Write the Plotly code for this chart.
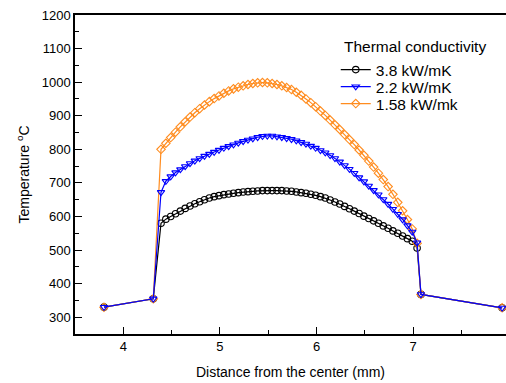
import plotly.graph_objects as go

# Distance from the center (mm)
x_left = [3.8, 4.31]
x_arc = [4.39, 4.44, 4.49, 4.54, 4.59, 4.64, 4.69, 4.74, 4.79, 4.84,
         4.89, 4.94, 4.99, 5.04, 5.09, 5.14, 5.19, 5.24, 5.29, 5.34,
         5.39, 5.44, 5.49, 5.54, 5.59, 5.64, 5.69, 5.74, 5.79, 5.84,
         5.89, 5.94, 5.99, 6.04, 6.09, 6.14, 6.19, 6.24, 6.29, 6.34,
         6.39, 6.44, 6.49, 6.54, 6.59, 6.64, 6.69, 6.74, 6.79, 6.84,
         6.89, 6.94, 6.99, 7.04]
x_right = [7.08, 7.92]

# Temperature (°C)
t_left = [330, 355]
t_right = [368, 328]

t38_arc = [580, 592, 600, 608, 616, 624, 631, 638, 644, 650,
           655, 659, 662, 665, 667, 669, 671, 673, 674, 675,
           676, 677, 677, 677, 677, 677, 676, 675, 673, 671,
           669, 666, 663, 659, 655, 649, 643, 637, 630, 623,
           616, 609, 601, 594, 587, 580, 572, 565, 557, 550,
           542, 534, 526, 506]

t22_arc = [672, 705, 719, 731, 740, 749, 758, 766, 773, 780,
           786, 792, 798, 804, 809, 814, 819, 824, 828, 832,
           836, 839, 840, 840, 838, 836, 833, 830, 826, 821,
           816, 810, 804, 797, 790, 782, 773, 763, 752, 741,
           729, 716, 704, 691, 678, 665, 651, 637, 622, 607,
           591, 573, 554, 522]

t158_arc = [800, 818, 835, 851, 867, 882, 896, 909, 921, 932,
            942, 951, 959, 967, 974, 980, 985, 989, 993, 996,
            998, 999, 998, 996, 993, 989, 984, 978, 970, 961,
            950, 939, 927, 914, 901, 887, 873, 859, 844, 829,
            814, 798, 782, 765, 747, 729, 710, 689, 666, 642,
            617, 591, 563, 520]

series_names = ["3.8 kW/mK", "2.2 kW/mK", "1.58 kW/mk"]
legend_title = "Thermal conductivity"
x_all = x_left + x_arc + x_right

fig = go.Figure()

styles = {
    "3.8 kW/mK": dict(color="#000000", symbol="circle-open", legend="legend", data=t38_arc),
    "1.58 kW/mk": dict(color="#FF8C1F", symbol="diamond-open", legend="legend3", data=t158_arc),
    "2.2 kW/mK": dict(color="#0000FF", symbol="triangle-down-open", legend="legend2", data=t22_arc),
}

for name in ["3.8 kW/mK", "1.58 kW/mk", "2.2 kW/mK"]:
    s = styles[name]
    fig.add_trace(go.Scatter(
        x=x_all, y=t_left + s["data"] + t_right,
        mode="lines+markers", name=name, legend=s["legend"],
        line=dict(color=s["color"], width=1.2),
        marker=dict(symbol=s["symbol"], size=6.5, color=s["color"],
                    line=dict(width=1.1, color=s["color"])),
        cliponaxis=False,
    ))

font_family = "Liberation Sans, Arial, sans-serif"
leg_common = dict(x=0.605, xanchor="left", yanchor="middle",
                  font=dict(size=15.5), bgcolor="rgba(0,0,0,0)", itemwidth=30)

fig.update_layout(
    width=506, height=383,
    margin=dict(l=75, r=0, t=15, b=49, autoexpand=False),
    paper_bgcolor="white", plot_bgcolor="white",
    font=dict(family=font_family, size=13, color="black"),
    showlegend=True,
    legend=dict(y=(334 - 70) / 319, **leg_common),
    legend2=dict(y=(334 - 87) / 319, **leg_common),
    legend3=dict(y=(334 - 104) / 319, **leg_common),
    annotations=[dict(
        text=legend_title, xref="paper", yref="paper",
        x=(342 - 75) / 431, y=(334 - 47) / 319, xanchor="left", yanchor="middle",
        showarrow=False, font=dict(size=15.5),
    )],
    xaxis=dict(
        range=[3.5, 7.96], showgrid=False, zeroline=False, automargin=False,
        showline=True, linecolor="black", linewidth=1.5, mirror=True,
        ticks="inside", ticklen=7, tickwidth=1.2, tickcolor="black",
        tickvals=[4, 5, 6, 7],
        minor=dict(ticks="inside", ticklen=4, tickwidth=1, tickcolor="black", dtick=0.5),
        title=dict(text="Distance from the center (mm)", font=dict(size=14), standoff=14),
        tickfont=dict(size=13),
    ),
    yaxis=dict(
        range=[250, 1200], showgrid=False, zeroline=False, automargin=False,
        showline=True, linecolor="black", linewidth=1.5, mirror=False,
        ticks="inside", ticklen=7, tickwidth=1.2, tickcolor="black",
        tickvals=[300, 400, 500, 600, 700, 800, 900, 1000, 1100, 1200],
        minor=dict(ticks="inside", ticklen=4, tickwidth=1, tickcolor="black", dtick=50, tick0=250),
        title=dict(text="Temperature <sup>o</sup>C", font=dict(size=14), standoff=9),
        tickfont=dict(size=13),
    ),
)

fig.write_html(
    "out.html",
    config={"displayModeBar": False},
    post_script="document.body.style.margin='0';document.body.style.overflow='hidden';",
)
